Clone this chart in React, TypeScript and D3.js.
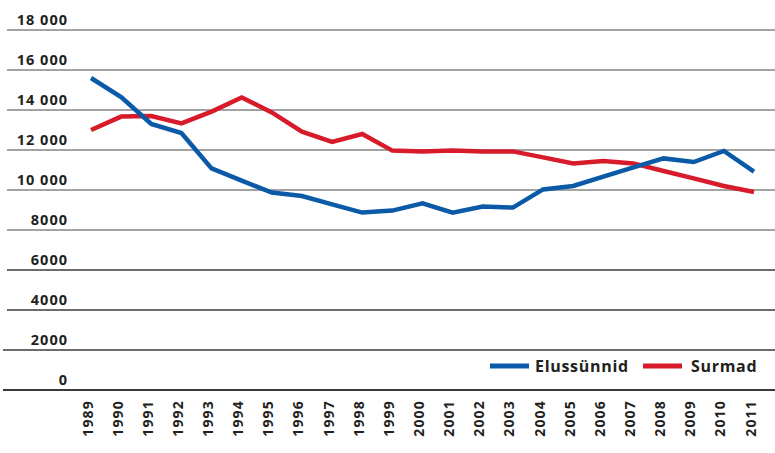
import React from 'react';
import * as d3 from 'd3';

const years = ['1989', '1990', '1991', '1992', '1993', '1994', '1995', '1996', '1997', '1998', '1999', '2000',
  '2001', '2002', '2003', '2004', '2005', '2006', '2007', '2008', '2009', '2010', '2011'];

const births = [15600, 14650, 13300, 12850, 11080, 10470, 9870, 9700, 9280, 8870, 8970, 9330,
  8870, 9170, 9120, 10030, 10200, 10670, 11130, 11580, 11400, 11950, 10920];

const deaths = [13000, 13670, 13700, 13330, 13920, 14630, 13880, 12920, 12400, 12800, 11970, 11920,
  11980, 11930, 11930, 11630, 11330, 11450, 11330, 10950, 10580, 10200, 9900];

const yTicks = [0, 2000, 4000, 6000, 8000, 10000, 12000, 14000, 16000, 18000];

const BLUE = '#0b5aa8';
const RED = '#d81b2a';
const TEXT = '#231f20';
const FONT = '"Open Sans", "DejaVu Sans", sans-serif';

// Estonian style: space separator only from five digits up
const fmt = (v: number) => (v >= 10000 ? d3.format(',')(v).replace(/,/g, ' ') : String(v));

export default function App() {
  const width = 775;
  const height = 453;

  const x = d3.scalePoint<string>().domain(years).range([91, 754]);
  const y = d3.scaleLinear().domain([0, 18000]).range([390, 30]);

  const line = d3.line<number>()
    .x((_, i) => x(years[i])!)
    .y(d => y(d));

  return (
    <svg width={width} height={height} style={{ position: 'absolute', left: 0, top: 0, background: '#fff' }}>
      {/* gridlines + y labels */}
      {yTicks.map(t => (
        <g key={t}>
          <line
            x1={t <= 2000 ? 3 : 7}
            x2={width}
            y1={y(t)}
            y2={y(t)}
            stroke={t >= 8000 ? '#858585' : '#3a3a3a'}
            strokeWidth={t === 0 ? 2 : 1.5}
          />
          <text
            x={68}
            y={y(t) - 5.5}
            textAnchor="end"
            fontFamily={FONT}
            fontWeight={700}
            fontSize={14.5}
            letterSpacing={1}
            fill={TEXT}
          >
            {fmt(t)}
          </text>
        </g>
      ))}

      {/* x labels */}
      {years.map(yr => (
        <text
          key={yr}
          transform={`translate(${x(yr)! + 1.5},400) rotate(-90)`}
          textAnchor="end"
          fontFamily={FONT}
          fontWeight={700}
          fontSize={14}
          letterSpacing={1.2}
          fill={TEXT}
        >
          {yr}
        </text>
      ))}

      {/* series */}
      <path d={line(deaths)!} fill="none" stroke={RED} strokeWidth={4.5} />
      <path d={line(births)!} fill="none" stroke={BLUE} strokeWidth={4.5} />

      {/* legend */}
      <g fontFamily={FONT} fontWeight={700} fontSize={16} letterSpacing={0.7} fill={TEXT}>
        <line x1={490} x2={529} y1={366} y2={366} stroke={BLUE} strokeWidth={5} />
        <text x={535} y={372}>Elussünnid</text>
        <line x1={643} x2={682} y1={366} y2={366} stroke={RED} strokeWidth={5} />
        <text x={691} y={372}>Surmad</text>
      </g>
    </svg>
  );
}
